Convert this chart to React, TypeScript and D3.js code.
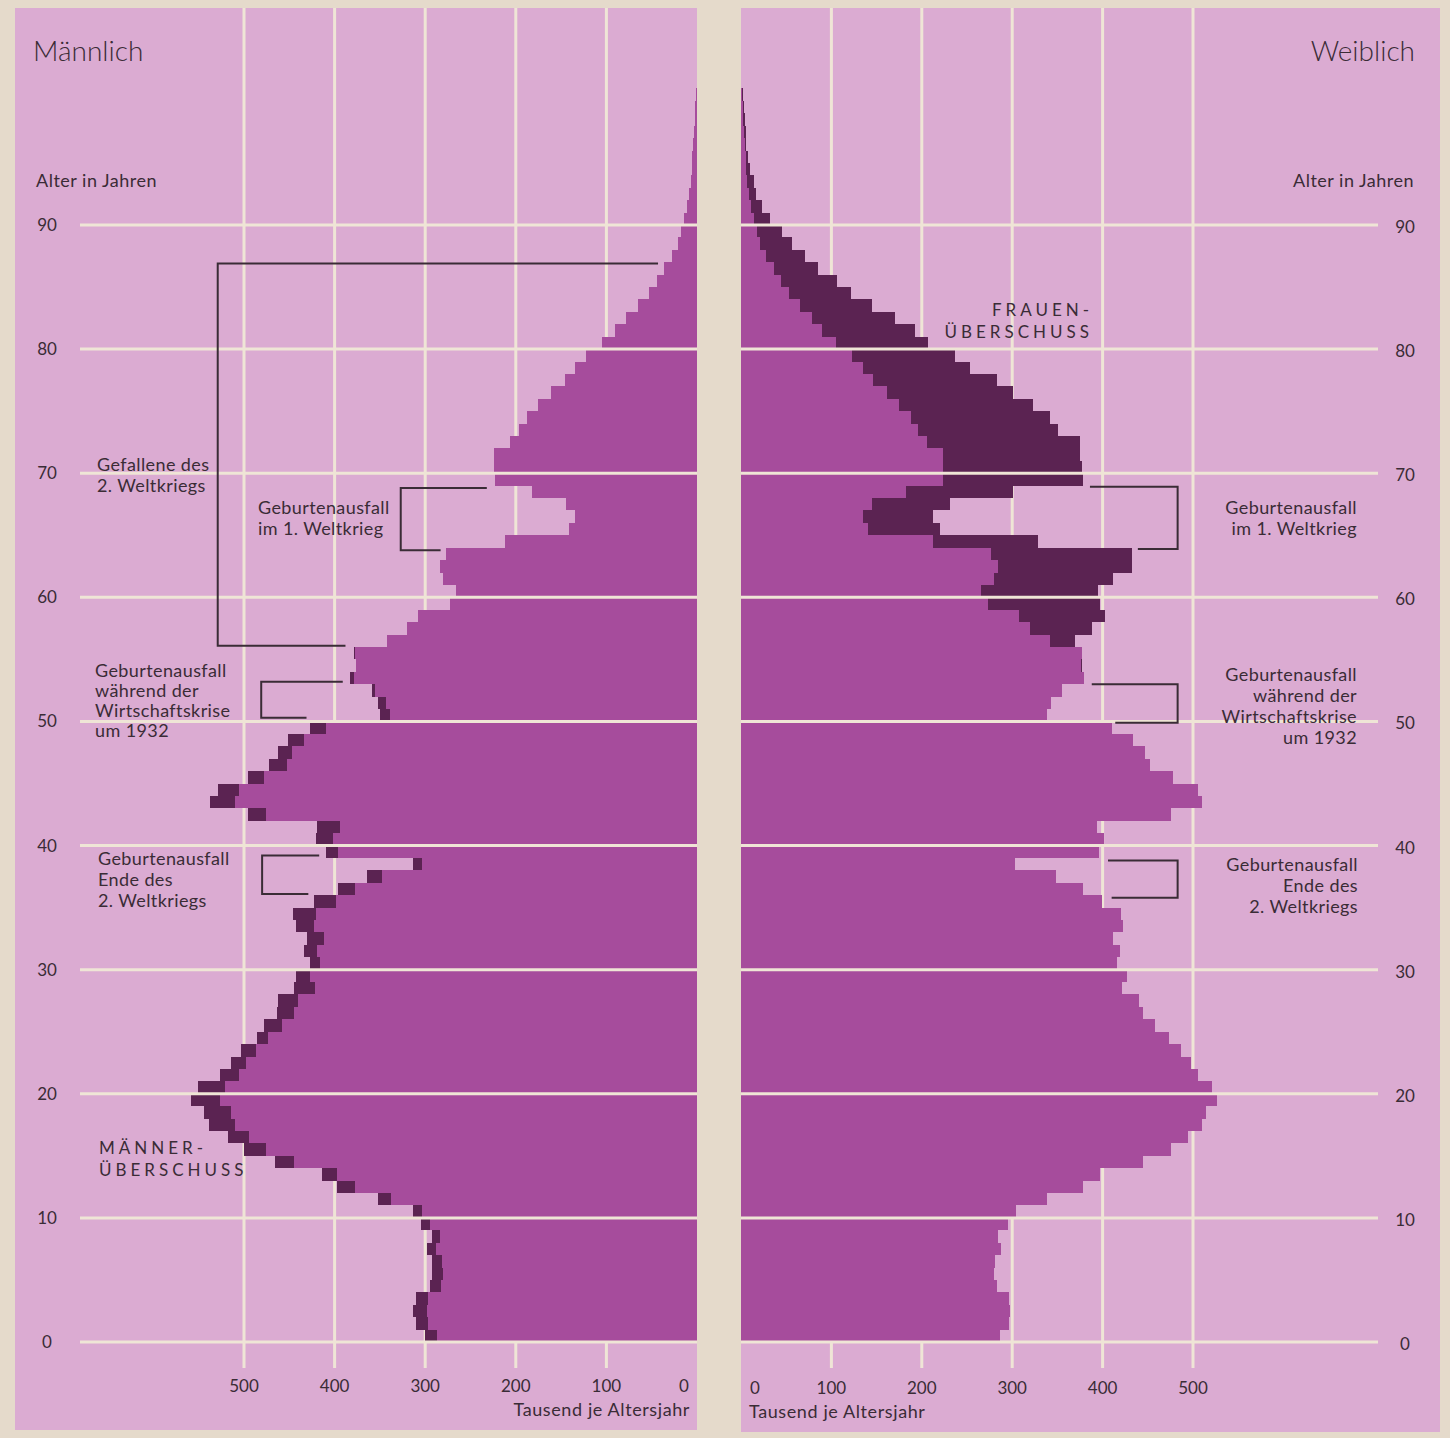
import React from "react";
import * as d3 from "d3";

// ages 0..100
const ages = d3.range(0, 101);
const male = [
  300, 310, 313, 310, 295, 293, 293, 298, 293, 305,
  314, 352, 397, 414, 466, 500, 518, 539, 544, 558,
  551, 527, 514, 503, 486, 478, 464, 462, 445, 443,
  427, 434, 431, 443, 446, 423, 396, 364, 314, 409,
  421, 419, 496, 537, 529, 496, 472, 462, 451, 427,
  350, 352, 359, 383, 376, 379, 342, 320, 308, 273,
  266, 280, 284, 277, 212, 141, 135, 145, 182, 223,
  224, 224, 206, 196, 188, 175, 161, 146, 135, 123,
  105, 90, 78, 65, 53, 44, 36, 28, 21, 18,
  14, 11, 9, 7, 6, 5, 4, 3, 2, 2, 1,
];
const female = [
  287, 297, 298, 297, 283, 280, 281, 288, 284, 295,
  304, 338, 378, 397, 445, 476, 495, 510, 514, 527,
  521, 505, 498, 487, 473, 458, 445, 440, 422, 427,
  416, 419, 412, 423, 420, 399, 378, 348, 303, 396,
  402, 394, 476, 510, 505, 478, 452, 447, 434, 410,
  339, 343, 355, 379, 377, 377, 370, 388, 403, 397,
  395, 411, 432, 432, 329, 220, 212, 231, 301, 378,
  377, 375, 375, 351, 342, 323, 301, 283, 253, 237,
  207, 192, 170, 145, 122, 106, 85, 71, 56, 45,
  32, 23, 17, 14, 10, 8, 6, 5, 4, 3, 2,
];
const ageTicks = [0, 10, 20, 30, 40, 50, 60, 70, 80, 90];
const valueTicks = [0, 100, 200, 300, 400, 500];

// annotation brackets (value of vertical stroke, top age & end value, bottom age & end value)
const maleBrackets = [
  { v: 529, aTop: 86.9, vTop: 43, aBot: 56.1, vBot: 388 },
  { v: 327, aTop: 68.8, vTop: 232, aBot: 63.8, vBot: 283 },
  { v: 481, aTop: 53.2, vTop: 391, aBot: 50.3, vBot: 431 },
  { v: 480, aTop: 39.2, vTop: 417, aBot: 36.1, vBot: 429 },
];
const femaleBrackets = [
  { v: 483, aTop: 68.9, vTop: 386, aBot: 63.9, vBot: 439 },
  { v: 483, aTop: 53.0, vTop: 388, aBot: 49.9, vBot: 414 },
  { v: 483, aTop: 38.8, vTop: 406, aBot: 35.8, vBot: 410 },
];

const C = {
  border: "#e5dacb",
  panel: "#dbabd2",
  bar: "#a64c9c",
  dark: "#5b2352",
  grid: "#efe5d6",
  text: "#3a2c36",
};
const FONT = "Lato, 'Open Sans', sans-serif";

export default function App() {
  const W = 1450,
    H = 1438;
  const y = d3.scaleLinear().domain([0, 90]).range([1342, 225]);
  const xm = d3.scaleLinear().domain([0, 500]).range([697, 244]);
  const xf = d3.scaleLinear().domain([0, 500]).range([741, 1193]);

  const rows = ages.map((a, i) => ({ a, m: male[i], f: female[i] }));

  const textLines = (
    lines: string[],
    x: number,
    y0: number,
    dy: number,
    anchor: string,
    size = 18,
    ls = 0.4
  ) =>
    lines.map((t, i) => (
      <text
        key={t + i}
        x={x}
        y={y0 + i * dy}
        textAnchor={anchor as any}
        fontSize={size}
        letterSpacing={ls}
        fill={C.text}
        fontFamily={FONT}
      >
        {t}
      </text>
    ));

  return (
    <svg
      width={W}
      height={H}
      style={{ position: "absolute", left: 0, top: 0, display: "block" }}
    >
      <rect x={0} y={0} width={W} height={H} fill={C.border} />
      <rect x={15} y={8} width={xm(0) - 15} height={1422} fill={C.panel} />
      <rect x={xf(0)} y={8} width={1440 - xf(0)} height={1424} fill={C.panel} />

      {/* vertical grid */}
      {valueTicks
        .filter((v) => v > 0)
        .map((v) => (
          <g key={"vg" + v}>
            <line x1={xm(v)} x2={xm(v)} y1={8} y2={1368} stroke={C.grid} strokeWidth={3} />
            <line x1={xf(v)} x2={xf(v)} y1={8} y2={1368} stroke={C.grid} strokeWidth={3} />
          </g>
        ))}

      {/* bars */}
      <g shapeRendering="crispEdges">
        {rows.map((r) => {
          const top = Math.round(y(r.a + 1));
          const bot = Math.round(y(r.a));
          const h = bot - top;
          const mn = Math.min(r.m, r.f);
          const xmIn = Math.round(xm(mn));
          const xmOut = Math.round(xm(r.m));
          const xfIn = Math.round(xf(mn));
          const xfOut = Math.round(xf(r.f));
          return (
            <g key={"b" + r.a}>
              <rect x={xmIn} y={top} width={Math.round(xm(0)) - xmIn} height={h} fill={C.bar} />
              {r.m > r.f && (
                <rect x={xmOut} y={top} width={xmIn - xmOut} height={h} fill={C.dark} />
              )}
              <rect x={Math.round(xf(0))} y={top} width={xfIn - Math.round(xf(0))} height={h} fill={C.bar} />
              {r.f > r.m && (
                <rect x={xfIn} y={top} width={xfOut - xfIn} height={h} fill={C.dark} />
              )}
            </g>
          );
        })}
      </g>

      {/* horizontal grid */}
      {ageTicks.map((a) => (
        <g key={"hg" + a}>
          <line x1={80} x2={xm(0)} y1={y(a)} y2={y(a)} stroke={C.grid} strokeWidth={3} />
          <line x1={xf(0)} x2={1378} y1={y(a)} y2={y(a)} stroke={C.grid} strokeWidth={3} />
        </g>
      ))}

      {/* age labels */}
      {ageTicks.map((a) => (
        <g key={"al" + a}>
          <text x={47} y={y(a) + 6} textAnchor="middle" fontSize={17} fill={C.text} fontFamily={FONT}>
            {a}
          </text>
          <text x={1405} y={y(a) + 8} textAnchor="middle" fontSize={17} fill={C.text} fontFamily={FONT}>
            {a}
          </text>
        </g>
      ))}

      {/* value labels */}
      {valueTicks.map((v) => (
        <g key={"vl" + v}>
          <text x={v === 0 ? 684 : xm(v)} y={1392} textAnchor="middle" fontSize={17} fill={C.text} fontFamily={FONT}>
            {v}
          </text>
          <text x={v === 0 ? 755 : xf(v)} y={1394} textAnchor="middle" fontSize={17} fill={C.text} fontFamily={FONT}>
            {v}
          </text>
        </g>
      ))}
      <text x={690} y={1416} textAnchor="end" fontSize={18} letterSpacing={0.6} fill={C.text} fontFamily={FONT}>
        Tausend je Altersjahr
      </text>
      <text x={749} y={1418} textAnchor="start" fontSize={18} letterSpacing={0.6} fill={C.text} fontFamily={FONT}>
        Tausend je Altersjahr
      </text>

      {/* titles */}
      <text x={33} y={61} fontSize={28} fill={C.text} fontFamily={FONT} fontWeight={300}>
        Männlich
      </text>
      <text x={1415} y={61} textAnchor="end" fontSize={28} fill={C.text} fontFamily={FONT} fontWeight={300}>
        Weiblich
      </text>
      <text x={36} y={187} fontSize={18} letterSpacing={0.5} fill={C.text} fontFamily={FONT}>
        Alter in Jahren
      </text>
      <text x={1414} y={187} textAnchor="end" fontSize={18} letterSpacing={0.5} fill={C.text} fontFamily={FONT}>
        Alter in Jahren
      </text>

      {/* brackets */}
      {maleBrackets.map((b, i) => (
        <path
          key={"mb" + i}
          d={`M${xm(b.vTop)},${y(b.aTop)}H${xm(b.v)}V${y(b.aBot)}H${xm(b.vBot)}`}
          fill="none"
          stroke={C.text}
          strokeWidth={2}
        />
      ))}
      {femaleBrackets.map((b, i) => (
        <path
          key={"fb" + i}
          d={`M${xf(b.vTop)},${y(b.aTop)}H${xf(b.v)}V${y(b.aBot)}H${xf(b.vBot)}`}
          fill="none"
          stroke={C.text}
          strokeWidth={2}
        />
      ))}

      {/* annotations left */}
      {textLines(["Gefallene des", "2. Weltkriegs"], 97, 471, 21, "start")}
      {textLines(["Geburtenausfall", "im 1. Weltkrieg"], 258, 514, 21, "start")}
      {textLines(["Geburtenausfall", "während der", "Wirtschaftskrise", "um 1932"], 95, 677, 20, "start")}
      {textLines(["Geburtenausfall", "Ende des", "2. Weltkriegs"], 98, 865, 21, "start")}
      {textLines(["MÄNNER-", "ÜBERSCHUSS"], 99, 1154, 22, "start", 17, 4)}

      {/* annotations right */}
      {textLines(["FRAUEN-", "ÜBERSCHUSS"], 1093, 316, 22, "end", 17, 4)}
      {textLines(["Geburtenausfall", "im 1. Weltkrieg"], 1357, 514, 21, "end")}
      {textLines(["Geburtenausfall", "während der", "Wirtschaftskrise", "um 1932"], 1357, 681, 21, "end")}
      {textLines(["Geburtenausfall", "Ende des", "2. Weltkriegs"], 1358, 871, 21, "end")}
    </svg>
  );
}
